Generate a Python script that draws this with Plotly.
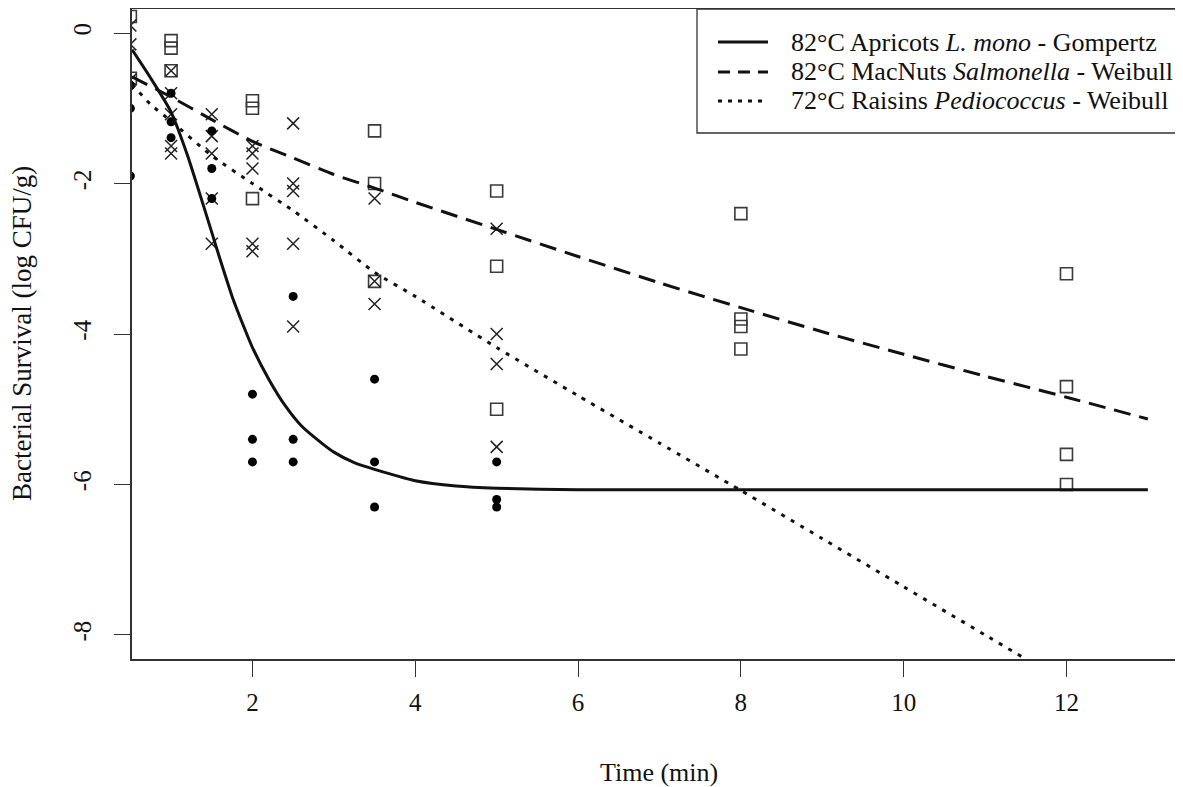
import plotly.graph_objects as go

# ---- data ----
# Apricots L. mono (filled circles)
lm_t = [0.5, 0.5, 0.5, 1, 1, 1, 1.5, 1.5, 1.5, 2, 2, 2, 2.5, 2.5, 2.5, 3.5, 3.5, 3.5, 5, 5, 5]
lm_y = [-0.7, -1.0, -1.9, -0.8, -1.18, -1.39, -1.3, -1.8, -2.2, -4.8, -5.4, -5.7,
        -3.5, -5.4, -5.7, -4.6, -5.7, -6.3, -5.7, -6.2, -6.3]

# MacNuts Salmonella (open squares)
sa_t = [0.5, 0.5, 1, 1, 1, 2, 2, 2, 3.5, 3.5, 3.5, 5, 5, 5, 8, 8, 8, 8, 12, 12, 12, 12]
sa_y = [0.22, -0.6, -0.1, -0.2, -0.5, -0.9, -1.0, -2.2, -1.3, -2.0, -3.3, -2.1, -3.1, -5.0,
        -2.4, -3.8, -3.9, -4.2, -3.2, -4.7, -5.6, -6.0]

# Raisins Pediococcus (x marks)
pe_t = [0.5, 0.5, 0.5, 1, 1, 1, 1, 1, 1.5, 1.5, 1.5, 1.5, 1.5, 2, 2, 2, 2, 2,
        2.5, 2.5, 2.5, 2.5, 2.5, 3.5, 3.5, 3.5, 5, 5, 5, 5]
pe_y = [0.1, -0.15, -0.62, -0.5, -0.8, -1.08, -1.5, -1.6, -1.08, -1.37, -1.6, -2.2, -2.8,
        -1.5, -1.6, -1.8, -2.8, -2.9, -1.2, -2.0, -2.1, -2.8, -3.9, -2.2, -3.3, -3.6,
        -2.6, -4.0, -4.4, -5.5]

# fitted curves
gz_t = [0.52, 0.75, 1.0, 1.2, 1.4, 1.6, 1.75, 1.9, 2.0, 2.2, 2.4, 2.6, 2.85, 3.0, 3.25,
        3.5, 4.0, 4.5, 5.0, 6.0, 8.0, 10.0, 13.0]
gz_y = [-0.22, -0.6, -1.05, -1.62, -2.3, -3.0, -3.5, -3.92, -4.18, -4.6, -4.95, -5.22,
        -5.45, -5.57, -5.71, -5.8, -5.95, -6.02, -6.05, -6.07, -6.07, -6.07, -6.07]

sw_t = [0.52, 1.0, 1.5, 2.0, 2.5, 3.0, 3.5, 4.0, 5.0, 6.0, 7.0, 8.0, 9.0, 10.0, 11.0, 12.0, 13.0]
sw_y = [-0.58, -0.85, -1.15, -1.44, -1.66, -1.88, -2.06, -2.25, -2.61, -2.97, -3.32,
        -3.65, -3.97, -4.27, -4.56, -4.84, -5.13]

pw_t = [0.52, 0.75, 1.0, 1.5, 2.0, 2.5, 3.0, 3.5, 4.0, 5.0, 6.0, 7.0, 8.0, 9.0, 10.0, 11.0, 12.0]
pw_y = [-0.68, -0.95, -1.17, -1.63, -2.0, -2.36, -2.76, -3.18, -3.5, -4.18, -4.82, -5.45,
        -6.08, -6.72, -7.36, -8.0, -8.64]

x_ticks = [2, 4, 6, 8, 10, 12]
y_ticks = [0, -2, -4, -6, -8]
legend_labels = ["82°C Apricots <i>L. mono</i> - Gompertz",
                 "82°C MacNuts <i>Salmonella</i> - Weibull",
                 "72°C Raisins <i>Pediococcus</i> - Weibull"]
x_title = "Time (min)"
y_title = "Bacterial Survival (log CFU/g)"

FONT = "Liberation Serif"
INK = "#111111"

# the page body adds an 8px offset; figure is sized so it fills the window exactly
OFF = 8
FW, FH = 1183 - OFF, 787 - OFF
# plot area in screen pixels
SL, ST, SB = 132, 9, 659
L, T, B = SL - OFF, ST - OFF, SB - OFF
R = FW
W, H = R - L, B - T


def px(sx):
    return (sx - OFF - L) / W


def py(sy):
    return (B - (sy - OFF)) / H


fig = go.Figure()

fig.add_trace(go.Scatter(x=sa_t, y=sa_y, mode="markers", cliponaxis=True, showlegend=False,
                         marker=dict(symbol="square-open", size=12, color="#3a3a3a",
                                     line=dict(width=1.6, color="#3a3a3a"))))
fig.add_trace(go.Scatter(x=pe_t, y=pe_y, mode="markers", cliponaxis=True, showlegend=False,
                         marker=dict(symbol="x-thin-open", size=12, color="#222222",
                                     line=dict(width=1.5, color="#222222"))))
fig.add_trace(go.Scatter(x=lm_t, y=lm_y, mode="markers", cliponaxis=True, showlegend=False,
                         marker=dict(symbol="circle", size=9, color="black", line=dict(width=0))))

fig.add_trace(go.Scatter(x=gz_t, y=gz_y, mode="lines", showlegend=False,
                         line=dict(color=INK, width=3, shape="spline", smoothing=0.6)))
fig.add_trace(go.Scatter(x=sw_t, y=sw_y, mode="lines", showlegend=False,
                         line=dict(color=INK, width=3, dash="17px,9px", shape="spline", smoothing=0.6)))
fig.add_trace(go.Scatter(x=pw_t, y=pw_y, mode="lines", showlegend=False,
                         line=dict(color=INK, width=3, dash="4px,7px", shape="spline", smoothing=0.6)))

# ---- legend drawn as in the reference (box at top right of the plot) ----
fig.add_shape(type="rect", xref="paper", yref="paper", x0=px(697), x1=px(1200), y0=py(133), y1=py(9),
              line=dict(color="#333333", width=1.3), fillcolor="white", layer="above")
dashes = ["solid", "12px,8px", "4px,6px"]
rows = [42, 72, 101]
for lab, d, r in zip(legend_labels, dashes, rows):
    fig.add_shape(type="line", xref="paper", yref="paper", x0=px(718), x1=px(768), y0=py(r), y1=py(r),
                  line=dict(color=INK, width=3, dash=d), layer="above")
    fig.add_annotation(xref="paper", yref="paper", x=px(789), y=py(r), text=lab, showarrow=False,
                       xanchor="left", yanchor="middle", font=dict(family=FONT, size=26, color="#111"))

# axis titles
fig.add_annotation(xref="paper", yref="paper", x=px(659), y=py(772), text=x_title, showarrow=False,
                   xanchor="center", yanchor="middle", font=dict(family=FONT, size=26, color="#111"))
fig.add_annotation(xref="paper", yref="paper", x=px(22), y=py(334), text=y_title, showarrow=False,
                   textangle=-90, xanchor="center", yanchor="middle",
                   font=dict(family=FONT, size=27, color="#111"))

fig.update_layout(
    width=FW, height=FH,
    margin=dict(l=L, r=FW - R, t=T, b=FH - B, autoexpand=False),
    paper_bgcolor="white", plot_bgcolor="white",
    font=dict(family=FONT, size=25, color="#111"),
)
fig.update_xaxes(range=[0.52, 0.52 + W / 81.4], tickvals=x_ticks, ticktext=[str(v) for v in x_ticks],
                 showgrid=False, zeroline=False, showline=True, linecolor="#333", linewidth=1.5,
                 mirror=True, ticks="outside", ticklen=16, tickwidth=1.3, tickcolor="#333",
                 ticklabelstandoff=4, automargin=False)
fig.update_yaxes(range=[-8.32, 0.32], tickvals=y_ticks, ticktext=[str(v) for v in y_ticks],
                 showgrid=False, zeroline=False, showline=True, linecolor="#333", linewidth=1.5,
                 ticks="outside", ticklen=16, tickwidth=1.3, tickcolor="#333", tickangle=-90,
                 ticklabelstandoff=13, automargin=False)

fig.write_html("out.html")
